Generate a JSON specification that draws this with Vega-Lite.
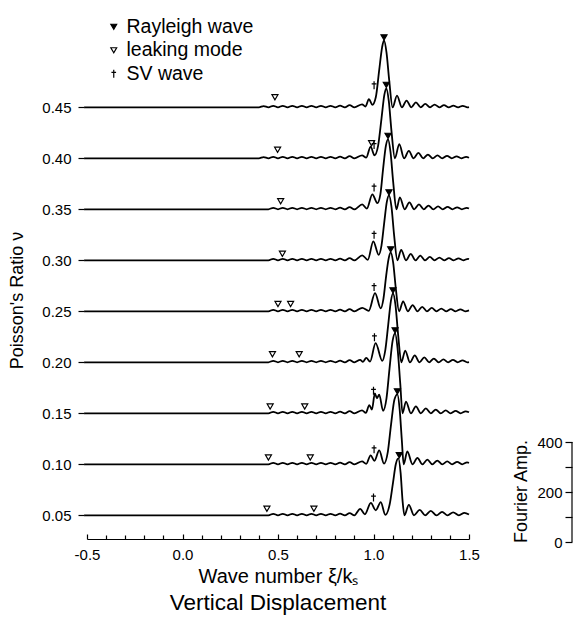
{
  "$schema": "https://vega.github.io/schema/vega-lite/v6.json",
  "padding": {"top": 10, "left": 8, "right": 3, "bottom": 5},
  "background": "white",
  "config": {
    "font": "Liberation Sans",
    "view": {"stroke": null},
    "axis": {"grid": false, "domainColor": "black", "tickColor": "black", "labelColor": "black", "titleColor": "black", "titleFontWeight": "normal", "labelFont": "Liberation Sans", "titleFont": "Liberation Sans", "domainWidth": 1.2, "tickWidth": 1.2},
    "legend": {"orient": "none", "legendX": 22, "legendY": 7, "labelFontSize": 19.5, "labelFont": "Liberation Sans", "labelColor": "black", "symbolStrokeWidth": 1.2, "symbolSize": 34, "rowPadding": 2.5, "labelOffset": 3, "symbolOffset": -5},
    "concat": {"spacing": 32}
  },
  "datasets": {
    "traces": [
      {"n":0.45,"x":-0.515,"a":0},{"n":0.45,"x":0.4,"a":0},{"n":0.45,"x":0.425,"a":5},{"n":0.45,"x":0.45,"a":0},{"n":0.45,"x":0.475,"a":6},{"n":0.45,"x":0.5,"a":0},{"n":0.45,"x":0.525,"a":6},{"n":0.45,"x":0.55,"a":0},{"n":0.45,"x":0.575,"a":6},{"n":0.45,"x":0.6,"a":0},{"n":0.45,"x":0.625,"a":6},{"n":0.45,"x":0.65,"a":0},{"n":0.45,"x":0.675,"a":6},{"n":0.45,"x":0.7,"a":0},{"n":0.45,"x":0.725,"a":6},{"n":0.45,"x":0.75,"a":0},{"n":0.45,"x":0.775,"a":6},{"n":0.45,"x":0.8,"a":0},{"n":0.45,"x":0.825,"a":7},{"n":0.45,"x":0.85,"a":0},{"n":0.45,"x":0.875,"a":9},{"n":0.45,"x":0.9,"a":0},
      {"n":0.45,"x":0.94,"a":12},{"n":0.45,"x":0.958,"a":3},{"n":0.45,"x":0.976,"a":33},{"n":0.45,"x":0.994,"a":10},{"n":0.45,"x":1.012,"a":40},{"n":0.45,"x":1.03,"a":150},{"n":0.45,"x":1.045,"a":240},{"n":0.45,"x":1.055,"a":268},{"n":0.45,"x":1.068,"a":220},{"n":0.45,"x":1.082,"a":110},{"n":0.45,"x":1.1,"a":0},{"n":0.45,"x":1.123,"a":47},{"n":0.45,"x":1.149,"a":0},{"n":0.45,"x":1.173,"a":27},{"n":0.45,"x":1.198,"a":0},{"n":0.45,"x":1.222,"a":20},{"n":0.45,"x":1.247,"a":0},{"n":0.45,"x":1.271,"a":14},{"n":0.45,"x":1.296,"a":0},{"n":0.45,"x":1.32,"a":11},{"n":0.45,"x":1.345,"a":0},{"n":0.45,"x":1.369,"a":9},{"n":0.45,"x":1.394,"a":0},{"n":0.45,"x":1.418,"a":7},{"n":0.45,"x":1.443,"a":0},{"n":0.45,"x":1.467,"a":6},{"n":0.45,"x":1.492,"a":0},{"n":0.45,"x":1.5,"a":1},

      {"n":0.4,"x":-0.515,"a":0},{"n":0.4,"x":0.4,"a":0},{"n":0.4,"x":0.425,"a":5},{"n":0.4,"x":0.45,"a":0},{"n":0.4,"x":0.475,"a":6},{"n":0.4,"x":0.5,"a":0},{"n":0.4,"x":0.525,"a":6},{"n":0.4,"x":0.55,"a":0},{"n":0.4,"x":0.575,"a":6},{"n":0.4,"x":0.6,"a":0},{"n":0.4,"x":0.625,"a":6},{"n":0.4,"x":0.65,"a":0},{"n":0.4,"x":0.675,"a":6},{"n":0.4,"x":0.7,"a":0},{"n":0.4,"x":0.725,"a":6},{"n":0.4,"x":0.75,"a":0},{"n":0.4,"x":0.775,"a":6},{"n":0.4,"x":0.8,"a":0},{"n":0.4,"x":0.825,"a":7},{"n":0.4,"x":0.85,"a":0},{"n":0.4,"x":0.875,"a":9},{"n":0.4,"x":0.9,"a":0},
      {"n":0.4,"x":0.94,"a":12},{"n":0.4,"x":0.962,"a":3},{"n":0.4,"x":0.985,"a":47},{"n":0.4,"x":1.005,"a":12},{"n":0.4,"x":1.024,"a":50},{"n":0.4,"x":1.042,"a":160},{"n":0.4,"x":1.057,"a":255},{"n":0.4,"x":1.067,"a":280},{"n":0.4,"x":1.08,"a":230},{"n":0.4,"x":1.094,"a":110},{"n":0.4,"x":1.112,"a":0},{"n":0.4,"x":1.135,"a":57},{"n":0.4,"x":1.16,"a":0},{"n":0.4,"x":1.185,"a":30},{"n":0.4,"x":1.21,"a":0},{"n":0.4,"x":1.235,"a":22},{"n":0.4,"x":1.26,"a":0},{"n":0.4,"x":1.285,"a":15},{"n":0.4,"x":1.31,"a":0},{"n":0.4,"x":1.335,"a":12},{"n":0.4,"x":1.36,"a":0},{"n":0.4,"x":1.385,"a":10},{"n":0.4,"x":1.41,"a":0},{"n":0.4,"x":1.435,"a":8},{"n":0.4,"x":1.46,"a":0},{"n":0.4,"x":1.485,"a":6},{"n":0.4,"x":1.5,"a":2},

      {"n":0.35,"x":-0.515,"a":0},{"n":0.35,"x":0.45,"a":0},{"n":0.35,"x":0.475,"a":6},{"n":0.35,"x":0.5,"a":0},{"n":0.35,"x":0.525,"a":6},{"n":0.35,"x":0.55,"a":0},{"n":0.35,"x":0.575,"a":6},{"n":0.35,"x":0.6,"a":0},{"n":0.35,"x":0.625,"a":6},{"n":0.35,"x":0.65,"a":0},{"n":0.35,"x":0.675,"a":6},{"n":0.35,"x":0.7,"a":0},{"n":0.35,"x":0.725,"a":6},{"n":0.35,"x":0.75,"a":0},{"n":0.35,"x":0.775,"a":6},{"n":0.35,"x":0.8,"a":0},{"n":0.35,"x":0.825,"a":7},{"n":0.35,"x":0.85,"a":0},{"n":0.35,"x":0.875,"a":9},{"n":0.35,"x":0.9,"a":0},
      {"n":0.35,"x":0.941,"a":20},{"n":0.35,"x":0.965,"a":3},{"n":0.35,"x":0.994,"a":60},{"n":0.35,"x":1.02,"a":25},{"n":0.35,"x":1.036,"a":60},{"n":0.35,"x":1.05,"a":160},{"n":0.35,"x":1.065,"a":255},{"n":0.35,"x":1.076,"a":280},{"n":0.35,"x":1.089,"a":230},{"n":0.35,"x":1.103,"a":110},{"n":0.35,"x":1.12,"a":0},{"n":0.35,"x":1.138,"a":48},{"n":0.35,"x":1.163,"a":0},{"n":0.35,"x":1.188,"a":28},{"n":0.35,"x":1.213,"a":0},{"n":0.35,"x":1.238,"a":20},{"n":0.35,"x":1.263,"a":0},{"n":0.35,"x":1.288,"a":15},{"n":0.35,"x":1.313,"a":0},{"n":0.35,"x":1.338,"a":12},{"n":0.35,"x":1.363,"a":0},{"n":0.35,"x":1.388,"a":10},{"n":0.35,"x":1.413,"a":0},{"n":0.35,"x":1.438,"a":8},{"n":0.35,"x":1.463,"a":0},{"n":0.35,"x":1.488,"a":6},{"n":0.35,"x":1.5,"a":3},

      {"n":0.3,"x":-0.515,"a":0},{"n":0.3,"x":0.45,"a":0},{"n":0.3,"x":0.475,"a":6},{"n":0.3,"x":0.5,"a":0},{"n":0.3,"x":0.525,"a":6},{"n":0.3,"x":0.55,"a":0},{"n":0.3,"x":0.575,"a":6},{"n":0.3,"x":0.6,"a":0},{"n":0.3,"x":0.625,"a":6},{"n":0.3,"x":0.65,"a":0},{"n":0.3,"x":0.675,"a":6},{"n":0.3,"x":0.7,"a":0},{"n":0.3,"x":0.725,"a":6},{"n":0.3,"x":0.75,"a":0},{"n":0.3,"x":0.775,"a":6},{"n":0.3,"x":0.8,"a":0},{"n":0.3,"x":0.825,"a":7},{"n":0.3,"x":0.85,"a":0},{"n":0.3,"x":0.875,"a":9},{"n":0.3,"x":0.9,"a":0},
      {"n":0.3,"x":0.941,"a":20},{"n":0.3,"x":0.97,"a":2},{"n":0.3,"x":0.999,"a":76},{"n":0.3,"x":1.027,"a":22},{"n":0.3,"x":1.042,"a":60},{"n":0.3,"x":1.056,"a":150},{"n":0.3,"x":1.07,"a":235},{"n":0.3,"x":1.081,"a":260},{"n":0.3,"x":1.094,"a":215},{"n":0.3,"x":1.108,"a":100},{"n":0.3,"x":1.125,"a":0},{"n":0.3,"x":1.145,"a":42},{"n":0.3,"x":1.17,"a":0},{"n":0.3,"x":1.195,"a":26},{"n":0.3,"x":1.22,"a":0},{"n":0.3,"x":1.245,"a":19},{"n":0.3,"x":1.27,"a":0},{"n":0.3,"x":1.295,"a":14},{"n":0.3,"x":1.32,"a":0},{"n":0.3,"x":1.345,"a":11},{"n":0.3,"x":1.37,"a":0},{"n":0.3,"x":1.395,"a":9},{"n":0.3,"x":1.42,"a":0},{"n":0.3,"x":1.445,"a":8},{"n":0.3,"x":1.47,"a":0},{"n":0.3,"x":1.495,"a":6},{"n":0.3,"x":1.5,"a":5},

      {"n":0.25,"x":-0.515,"a":0},{"n":0.25,"x":0.45,"a":0},{"n":0.25,"x":0.475,"a":6},{"n":0.25,"x":0.5,"a":0},{"n":0.25,"x":0.525,"a":6},{"n":0.25,"x":0.55,"a":0},{"n":0.25,"x":0.575,"a":6},{"n":0.25,"x":0.6,"a":0},{"n":0.25,"x":0.625,"a":6},{"n":0.25,"x":0.65,"a":0},{"n":0.25,"x":0.675,"a":6},{"n":0.25,"x":0.7,"a":0},{"n":0.25,"x":0.725,"a":6},{"n":0.25,"x":0.75,"a":0},{"n":0.25,"x":0.775,"a":6},{"n":0.25,"x":0.8,"a":0},{"n":0.25,"x":0.825,"a":7},{"n":0.25,"x":0.85,"a":0},{"n":0.25,"x":0.875,"a":9},{"n":0.25,"x":0.9,"a":0},
      {"n":0.25,"x":0.941,"a":14},{"n":0.25,"x":0.975,"a":2},{"n":0.25,"x":1.008,"a":73},{"n":0.25,"x":1.038,"a":12},{"n":0.25,"x":1.052,"a":50},{"n":0.25,"x":1.066,"a":140},{"n":0.25,"x":1.079,"a":210},{"n":0.25,"x":1.09,"a":236},{"n":0.25,"x":1.103,"a":195},{"n":0.25,"x":1.117,"a":90},{"n":0.25,"x":1.134,"a":0},{"n":0.25,"x":1.155,"a":40},{"n":0.25,"x":1.18,"a":0},{"n":0.25,"x":1.205,"a":25},{"n":0.25,"x":1.23,"a":0},{"n":0.25,"x":1.255,"a":18},{"n":0.25,"x":1.28,"a":0},{"n":0.25,"x":1.305,"a":14},{"n":0.25,"x":1.33,"a":0},{"n":0.25,"x":1.355,"a":11},{"n":0.25,"x":1.38,"a":0},{"n":0.25,"x":1.405,"a":9},{"n":0.25,"x":1.43,"a":0},{"n":0.25,"x":1.455,"a":8},{"n":0.25,"x":1.48,"a":0},{"n":0.25,"x":1.5,"a":4},

      {"n":0.2,"x":-0.515,"a":0},{"n":0.2,"x":0.45,"a":0},{"n":0.2,"x":0.475,"a":6},{"n":0.2,"x":0.5,"a":0},{"n":0.2,"x":0.525,"a":6},{"n":0.2,"x":0.55,"a":0},{"n":0.2,"x":0.575,"a":6},{"n":0.2,"x":0.6,"a":0},{"n":0.2,"x":0.625,"a":6},{"n":0.2,"x":0.65,"a":0},{"n":0.2,"x":0.675,"a":6},{"n":0.2,"x":0.7,"a":0},{"n":0.2,"x":0.725,"a":6},{"n":0.2,"x":0.75,"a":0},{"n":0.2,"x":0.775,"a":6},{"n":0.2,"x":0.8,"a":0},{"n":0.2,"x":0.825,"a":7},{"n":0.2,"x":0.85,"a":0},{"n":0.2,"x":0.875,"a":9},{"n":0.2,"x":0.9,"a":0},
      {"n":0.2,"x":0.93,"a":10},{"n":0.2,"x":0.945,"a":2},{"n":0.2,"x":0.962,"a":18},{"n":0.2,"x":0.982,"a":3},{"n":0.2,"x":1.011,"a":77},{"n":0.2,"x":1.046,"a":6},{"n":0.2,"x":1.062,"a":50},{"n":0.2,"x":1.077,"a":150},{"n":0.2,"x":1.091,"a":245},{"n":0.2,"x":1.102,"a":276},{"n":0.2,"x":1.115,"a":230},{"n":0.2,"x":1.129,"a":110},{"n":0.2,"x":1.146,"a":0},{"n":0.2,"x":1.166,"a":47},{"n":0.2,"x":1.191,"a":0},{"n":0.2,"x":1.216,"a":28},{"n":0.2,"x":1.241,"a":0},{"n":0.2,"x":1.266,"a":20},{"n":0.2,"x":1.291,"a":0},{"n":0.2,"x":1.316,"a":15},{"n":0.2,"x":1.341,"a":0},{"n":0.2,"x":1.366,"a":12},{"n":0.2,"x":1.391,"a":0},{"n":0.2,"x":1.416,"a":10},{"n":0.2,"x":1.441,"a":0},{"n":0.2,"x":1.466,"a":8},{"n":0.2,"x":1.491,"a":0},{"n":0.2,"x":1.5,"a":1},

      {"n":0.15,"x":-0.515,"a":0},{"n":0.15,"x":0.45,"a":0},{"n":0.15,"x":0.475,"a":6},{"n":0.15,"x":0.5,"a":0},{"n":0.15,"x":0.525,"a":6},{"n":0.15,"x":0.55,"a":0},{"n":0.15,"x":0.575,"a":6},{"n":0.15,"x":0.6,"a":0},{"n":0.15,"x":0.625,"a":6},{"n":0.15,"x":0.65,"a":0},{"n":0.15,"x":0.675,"a":6},{"n":0.15,"x":0.7,"a":0},{"n":0.15,"x":0.725,"a":6},{"n":0.15,"x":0.75,"a":0},{"n":0.15,"x":0.775,"a":6},{"n":0.15,"x":0.8,"a":0},{"n":0.15,"x":0.825,"a":7},{"n":0.15,"x":0.85,"a":0},{"n":0.15,"x":0.875,"a":9},{"n":0.15,"x":0.9,"a":0},
      {"n":0.15,"x":0.94,"a":12},{"n":0.15,"x":0.96,"a":2},{"n":0.15,"x":0.978,"a":33},{"n":0.15,"x":0.992,"a":15},{"n":0.15,"x":1.007,"a":80},{"n":0.15,"x":1.018,"a":60},{"n":0.15,"x":1.03,"a":75},{"n":0.15,"x":1.05,"a":10},{"n":0.15,"x":1.068,"a":60},{"n":0.15,"x":1.084,"a":180},{"n":0.15,"x":1.1,"a":290},{"n":0.15,"x":1.113,"a":320},{"n":0.15,"x":1.126,"a":260},{"n":0.15,"x":1.14,"a":120},{"n":0.15,"x":1.152,"a":0},{"n":0.15,"x":1.17,"a":47},{"n":0.15,"x":1.196,"a":0},{"n":0.15,"x":1.222,"a":28},{"n":0.15,"x":1.248,"a":0},{"n":0.15,"x":1.274,"a":20},{"n":0.15,"x":1.3,"a":0},{"n":0.15,"x":1.326,"a":15},{"n":0.15,"x":1.352,"a":0},{"n":0.15,"x":1.378,"a":12},{"n":0.15,"x":1.404,"a":0},{"n":0.15,"x":1.43,"a":10},{"n":0.15,"x":1.456,"a":0},{"n":0.15,"x":1.482,"a":8},{"n":0.15,"x":1.5,"a":4},

      {"n":0.1,"x":-0.515,"a":0},{"n":0.1,"x":0.45,"a":0},{"n":0.1,"x":0.475,"a":6},{"n":0.1,"x":0.5,"a":0},{"n":0.1,"x":0.525,"a":6},{"n":0.1,"x":0.55,"a":0},{"n":0.1,"x":0.575,"a":6},{"n":0.1,"x":0.6,"a":0},{"n":0.1,"x":0.625,"a":6},{"n":0.1,"x":0.65,"a":0},{"n":0.1,"x":0.675,"a":6},{"n":0.1,"x":0.7,"a":0},{"n":0.1,"x":0.725,"a":6},{"n":0.1,"x":0.75,"a":0},{"n":0.1,"x":0.775,"a":6},{"n":0.1,"x":0.8,"a":0},{"n":0.1,"x":0.825,"a":7},{"n":0.1,"x":0.85,"a":0},{"n":0.1,"x":0.875,"a":9},{"n":0.1,"x":0.9,"a":0},
      {"n":0.1,"x":0.94,"a":12},{"n":0.1,"x":0.962,"a":2},{"n":0.1,"x":0.985,"a":36},{"n":0.1,"x":1.005,"a":14},{"n":0.1,"x":1.03,"a":56},{"n":0.1,"x":1.055,"a":3},{"n":0.1,"x":1.075,"a":50},{"n":0.1,"x":1.092,"a":160},{"n":0.1,"x":1.11,"a":260},{"n":0.1,"x":1.125,"a":280},{"n":0.1,"x":1.137,"a":220},{"n":0.1,"x":1.148,"a":100},{"n":0.1,"x":1.158,"a":0},{"n":0.1,"x":1.177,"a":52},{"n":0.1,"x":1.204,"a":0},{"n":0.1,"x":1.23,"a":26},{"n":0.1,"x":1.256,"a":0},{"n":0.1,"x":1.282,"a":19},{"n":0.1,"x":1.308,"a":0},{"n":0.1,"x":1.334,"a":15},{"n":0.1,"x":1.36,"a":0},{"n":0.1,"x":1.386,"a":12},{"n":0.1,"x":1.412,"a":0},{"n":0.1,"x":1.438,"a":10},{"n":0.1,"x":1.464,"a":0},{"n":0.1,"x":1.49,"a":8},{"n":0.1,"x":1.5,"a":6},

      {"n":0.05,"x":-0.515,"a":0},{"n":0.05,"x":0.45,"a":0},{"n":0.05,"x":0.475,"a":6},{"n":0.05,"x":0.5,"a":0},{"n":0.05,"x":0.525,"a":6},{"n":0.05,"x":0.55,"a":0},{"n":0.05,"x":0.575,"a":6},{"n":0.05,"x":0.6,"a":0},{"n":0.05,"x":0.625,"a":6},{"n":0.05,"x":0.65,"a":0},{"n":0.05,"x":0.675,"a":6},{"n":0.05,"x":0.7,"a":0},{"n":0.05,"x":0.725,"a":6},{"n":0.05,"x":0.75,"a":0},{"n":0.05,"x":0.775,"a":6},{"n":0.05,"x":0.8,"a":0},{"n":0.05,"x":0.825,"a":7},{"n":0.05,"x":0.85,"a":0},{"n":0.05,"x":0.875,"a":9},{"n":0.05,"x":0.9,"a":0},
      {"n":0.05,"x":0.93,"a":26},{"n":0.05,"x":0.955,"a":4},{"n":0.05,"x":0.986,"a":50},{"n":0.05,"x":1.012,"a":20},{"n":0.05,"x":1.038,"a":53},{"n":0.05,"x":1.062,"a":2},{"n":0.05,"x":1.085,"a":45},{"n":0.05,"x":1.102,"a":130},{"n":0.05,"x":1.117,"a":205},{"n":0.05,"x":1.13,"a":228},{"n":0.05,"x":1.142,"a":170},{"n":0.05,"x":1.152,"a":60},{"n":0.05,"x":1.162,"a":0},{"n":0.05,"x":1.185,"a":42},{"n":0.05,"x":1.212,"a":0},{"n":0.05,"x":1.242,"a":22},{"n":0.05,"x":1.27,"a":0},{"n":0.05,"x":1.3,"a":18},{"n":0.05,"x":1.33,"a":0},{"n":0.05,"x":1.359,"a":14},{"n":0.05,"x":1.388,"a":0},{"n":0.05,"x":1.417,"a":12},{"n":0.05,"x":1.447,"a":0},{"n":0.05,"x":1.476,"a":10},{"n":0.05,"x":1.5,"a":3}
    ],
    "marks": [
      {"t":"Rayleigh wave","n":0.45,"x":1.055,"a":280},{"t":"Rayleigh wave","n":0.4,"x":1.067,"a":294},{"t":"Rayleigh wave","n":0.35,"x":1.076,"a":294},{"t":"Rayleigh wave","n":0.3,"x":1.081,"a":272},{"t":"Rayleigh wave","n":0.25,"x":1.09,"a":248},{"t":"Rayleigh wave","n":0.2,"x":1.102,"a":288},{"t":"Rayleigh wave","n":0.15,"x":1.113,"a":332},{"t":"Rayleigh wave","n":0.1,"x":1.125,"a":292},{"t":"Rayleigh wave","n":0.05,"x":1.135,"a":240},
      {"t":"leaking mode","n":0.45,"x":0.484,"a":40},{"t":"leaking mode","n":0.4,"x":0.498,"a":34},{"t":"leaking mode","n":0.4,"x":0.99,"a":60},{"t":"leaking mode","n":0.35,"x":0.514,"a":32},{"t":"leaking mode","n":0.3,"x":0.523,"a":26},{"t":"leaking mode","n":0.25,"x":0.5,"a":29},{"t":"leaking mode","n":0.25,"x":0.566,"a":29},{"t":"leaking mode","n":0.2,"x":0.471,"a":32},{"t":"leaking mode","n":0.2,"x":0.611,"a":32},{"t":"leaking mode","n":0.15,"x":0.459,"a":27},{"t":"leaking mode","n":0.15,"x":0.64,"a":27},{"t":"leaking mode","n":0.1,"x":0.45,"a":27},{"t":"leaking mode","n":0.1,"x":0.669,"a":27},{"t":"leaking mode","n":0.05,"x":0.442,"a":26},{"t":"leaking mode","n":0.05,"x":0.688,"a":26},
      {"t":"SV wave","n":0.45,"x":1.003,"a":88},{"t":"SV wave","n":0.4,"x":1.003,"a":53},{"t":"SV wave","n":0.35,"x":1.003,"a":87},{"t":"SV wave","n":0.3,"x":1.003,"a":102},{"t":"SV wave","n":0.25,"x":1.003,"a":97},{"t":"SV wave","n":0.2,"x":1.005,"a":100},{"t":"SV wave","n":0.15,"x":1.0,"a":90},{"t":"SV wave","n":0.1,"x":1.003,"a":60},{"t":"SV wave","n":0.05,"x":1.0,"a":71}
    ]
  },
  "hconcat": [
    {
      "width": 382,
      "height": 529,
      "title": {"text": "Vertical Displacement", "orient": "bottom", "anchor": "middle", "fontSize": 22.5, "fontWeight": "normal", "font": "Liberation Sans", "color": "black", "offset": 6},
      "resolve": {"axis": {"x": "independent"}},
      "layer": [
        {
          "data": {"name": "traces"},
          "transform": [{"calculate": "datum.n + datum.a * 0.000245", "as": "y"}],
          "mark": {"type": "line", "interpolate": "monotone", "color": "black", "strokeWidth": 1.8},
          "encoding": {
            "x": {"field": "x", "type": "quantitative", "scale": {"domain": [-0.5, 1.5], "nice": false, "zero": false},
              "axis": {"orient": "bottom", "values": [-0.5, 0, 0.5, 1, 1.5],
                "labelExpr": "replace(format(datum.value, '.1f'), '\u2212', '-')",
                "tickSize": -5, "labelFontSize": 15, "labelPadding": 13, "labelFlush": false, "labelOverlap": false,
                "title": "Wave number ξ/kₛ", "titleFontSize": 20, "titlePadding": 4}},
            "y": {"field": "y", "type": "quantitative", "scale": {"domain": [0.02676, 0.5454], "nice": false, "zero": false},
              "axis": {"values": [0.05,0.1,0.15,0.2,0.25,0.3,0.35,0.4,0.45], "format": ".2f", "domain": false, "offset": 3, "tickSize": 6,
                "labelFontSize": 15, "labelPadding": 7, "title": "Poisson's Ratio ν", "titleFontSize": 18, "titlePadding": 15, "titleY": 290}},
            "detail": {"field": "n", "type": "nominal"}
          }
        },
        {
          "data": {"name": "marks"},
          "transform": [{"calculate": "datum.n + datum.a * 0.000245", "as": "y"}],
          "mark": {"type": "point", "filled": true, "strokeWidth": 1.2, "opacity": 1, "size": 36},
          "encoding": {
            "x": {"field": "x", "type": "quantitative",
              "axis": {"orient": "bottom", "values": [-0.4,-0.3,-0.2,-0.1,0.1,0.2,0.3,0.4,0.6,0.7,0.8,0.9,1.1,1.2,1.3,1.4], "labels": false, "domain": false, "tickSize": -4, "title": null}},
            "y": {"field": "y", "type": "quantitative"},
            "shape": {"field": "t", "type": "nominal", "title": null,
              "scale": {"domain": ["Rayleigh wave", "leaking mode", "SV wave"], "range": ["triangle-down", "triangle-down", "M0,-1.35V1.35M-0.8,-0.5H0.8"]}},
            "fill": {"field": "t", "type": "nominal", "title": null,
              "scale": {"domain": ["Rayleigh wave", "leaking mode", "SV wave"], "range": ["black", "white", "black"]}},
            "stroke": {"field": "t", "type": "nominal", "title": null,
              "scale": {"domain": ["Rayleigh wave", "leaking mode", "SV wave"], "range": ["black", "black", "black"]}}
          }
        }
      ]
    },
    {
      "width": 1,
      "height": 532,
      "data": {"values": [{}]},
      "mark": {"type": "rule", "color": "black", "strokeWidth": 1.2},
      "encoding": {
        "x": {"datum": 0, "type": "quantitative", "scale": {"domain": [0, 1]}, "axis": null},
        "y": {"datum": 0, "type": "quantitative", "scale": {"domain": [0, 2128], "nice": false, "zero": false},
          "axis": {"orient": "left", "values": [0,100,200,300,400], "labelExpr": "datum.value % 200 === 0 ? datum.label : ''", "domain": false, "tickSize": 7, "labelFontSize": 15, "labelPadding": 3, "title": "Fourier Amp.", "titleFontSize": 18, "titlePadding": 6, "titleY": 481}},
        "y2": {"datum": 400}
      }
    }
  ]
}
